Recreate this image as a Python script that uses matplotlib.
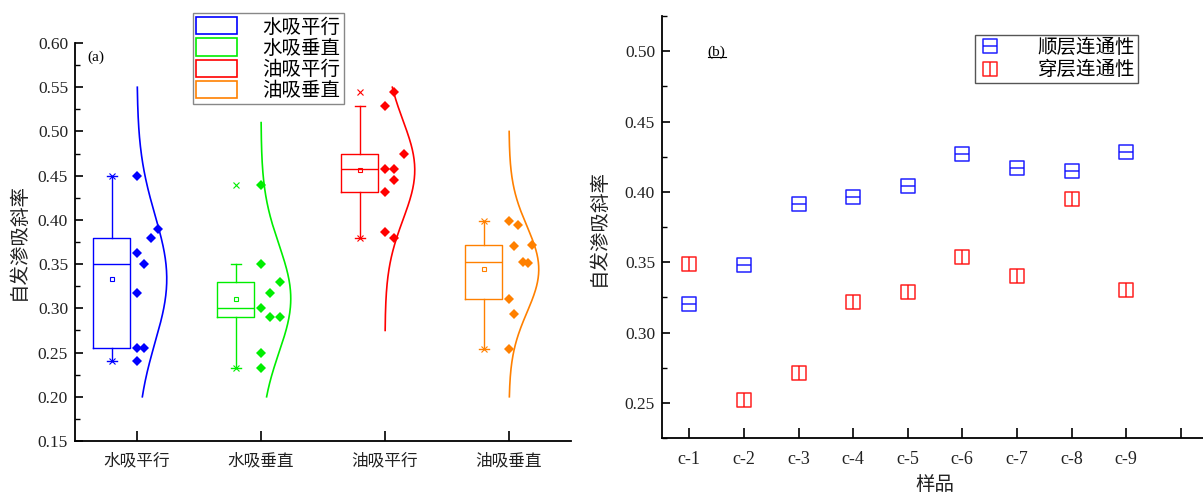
import numpy as np
import matplotlib.pyplot as plt
from matplotlib.path import Path
from matplotlib.patches import Patch
from matplotlib.lines import Line2D
from matplotlib.ticker import MultipleLocator, FormatStrFormatter

plt.rcParams['font.family'] = ['Liberation Serif', 'Noto Sans CJK SC']
plt.rcParams['axes.unicode_minus'] = False

# (a) imbibition slope per group
groups = ['水吸平行', '水吸垂直', '油吸平行', '油吸垂直']
water_par = [0.24, 0.255, 0.255, 0.317, 0.363, 0.35, 0.38, 0.39, 0.45]
water_perp = [0.232, 0.25, 0.29, 0.29, 0.30, 0.317, 0.33, 0.35, 0.44]
oil_par = [0.386, 0.380, 0.431, 0.445, 0.458, 0.458, 0.475, 0.529, 0.545]
oil_perp = [0.254, 0.294, 0.311, 0.399, 0.370, 0.394, 0.352, 0.351, 0.372]
curve_lo = [0.20, 0.20, 0.275, 0.20]
curve_hi = [0.55, 0.51, 0.55, 0.50]
colors_a = ['#0000ff', '#00ee00', '#ff0000', '#ff8000']

# (b) imbibition slope per sample
samples = ['c-1', 'c-2', 'c-3', 'c-4', 'c-5', 'c-6', 'c-7', 'c-8', 'c-9']
bedding = [0.320, 0.348, 0.391, 0.396, 0.404, 0.427, 0.417, 0.415, 0.428]
cross = [0.349, 0.252, 0.271, 0.322, 0.329, 0.354, 0.340, 0.395, 0.330]

TXT = '#222222'


def bin_columns(vals, width=0.05):
    # points falling in the same bin are spread sideways in order
    bins = np.floor(np.asarray(vals) / width + 1e-6).astype(int)
    cols = np.zeros(len(vals), int)
    seen = {}
    for i, b in enumerate(bins):
        cols[i] = seen.get(b, 0)
        seen[b] = cols[i] + 1
    return cols, max(seen.values())


def boxed_marker(vertical):
    if vertical:
        mid = [(0, -1), (0, 1)]
    else:
        mid = [(-1, 0), (1, 0)]
    verts = [(-1, -1), (1, -1), (1, 1), (-1, 1), (-1, -1)] + mid
    codes = [Path.MOVETO, Path.LINETO, Path.LINETO, Path.LINETO, Path.CLOSEPOLY,
             Path.MOVETO, Path.LINETO]
    return Path(verts, codes)


fig = plt.figure(figsize=(12.03, 4.94), dpi=100)
ax1 = fig.add_axes([75 / 1203, 53 / 494, 496 / 1203, 398 / 494])
ax2 = fig.add_axes([662 / 1203, 56 / 494, 546 / 1203, 422 / 494])

# ---- panel (a)
data_a = [water_par, water_perp, oil_par, oil_perp]
pos = np.arange(1, 5)
for i, (vals, c) in enumerate(zip(data_a, colors_a)):
    p = pos[i]
    vals = np.asarray(vals)
    ax1.boxplot([vals], positions=[p - 0.205], widths=0.30, whis=1.5,
                showfliers=False, showmeans=True, manage_ticks=False,
                capwidths=0.08,
                boxprops=dict(color=c, lw=1.0),
                whiskerprops=dict(color=c, lw=1.0),
                capprops=dict(color=c, lw=1.0),
                medianprops=dict(color=c, lw=1.0),
                meanprops=dict(marker='s', ms=3.5, mfc='none', mec=c, mew=0.8))
    ax1.plot([p - 0.205] * 2, [vals.min(), vals.max()], ls='none', marker='x',
             ms=5, mew=0.8, color=c)
    cols, nmax = bin_columns(vals)
    ax1.plot(p + cols * 0.226 / nmax, vals, ls='none', marker='D', ms=5.3,
             mew=0, color=c, zorder=4)
    mu, sd = vals.mean(), vals.std(ddof=1)
    yy = np.linspace(curve_lo[i], curve_hi[i], 200)
    ax1.plot(p + 0.24 * np.exp(-0.5 * ((yy - mu) / sd) ** 2), yy, color=c, lw=1.2)

ax1.set_xlim(0.5, 4.5)
ax1.set_ylim(0.15, 0.60)
ax1.set_xticks(pos, groups, fontsize=12, color=TXT)
ax1.yaxis.set_major_locator(MultipleLocator(0.05))
ax1.yaxis.set_minor_locator(MultipleLocator(0.025))
ax1.yaxis.set_major_formatter(FormatStrFormatter('%.2f'))
ax1.set_ylabel('自发渗吸斜率', fontsize=14, color=TXT, labelpad=7)
ax1.text(0.025, 0.965, '(a)', transform=ax1.transAxes, fontsize=11,
         va='center', ha='left')

leg_handles = [Patch(facecolor='none', edgecolor=c, lw=1.2) for c in colors_a]
ax1.legend(leg_handles, groups, loc='upper left', bbox_to_anchor=(0.237, 1.075),
           fontsize=14, frameon=True, fancybox=False, edgecolor='#888888',
           framealpha=1, handlelength=2.1, handleheight=1.0, labelspacing=0.1,
           handletextpad=1.3, borderpad=0.2, borderaxespad=0)

# ---- panel (b)
x = np.arange(1, len(samples) + 1)
ax2.plot(x, bedding, ls='none', marker=boxed_marker(False), ms=10,
         mfc='none', mec='#2020ff', mew=1.1, label='顺层连通性')
ax2.plot(x, cross, ls='none', marker=boxed_marker(True), ms=10,
         mfc='none', mec='#ff2020', mew=1.1, label='穿层连通性')
ax2.set_xlim(0.5, 10.5)
ax2.set_ylim(0.225, 0.525)
ax2.set_xticks(np.arange(1, 11), samples + [''], fontsize=13, color=TXT)
ax2.yaxis.set_major_locator(MultipleLocator(0.05))
ax2.yaxis.set_minor_locator(MultipleLocator(0.025))
ax2.yaxis.set_major_formatter(FormatStrFormatter('%.2f'))
ax2.set_ylabel('自发渗吸斜率', fontsize=14, color=TXT, labelpad=12)
ax2.set_xlabel('样品', fontsize=14, color=TXT, labelpad=6)
tb = ax2.text(0.1, 0.915, '(b)', transform=ax2.transAxes, fontsize=11,
              va='center', ha='center')
ax2.legend(loc='upper left', bbox_to_anchor=(0.573, 0.955), fontsize=14,
           frameon=True, fancybox=False, edgecolor='#555555', framealpha=1,
           handlelength=1.2, handletextpad=1.8, labelspacing=0.2,
           borderpad=0.2, borderaxespad=0)

for ax in (ax1, ax2):
    for side in ('top', 'right'):
        ax.spines[side].set_visible(False)
    for side in ('left', 'bottom'):
        ax.spines[side].set_linewidth(1.3)
    ax.tick_params(axis='both', which='major', direction='in', width=1.2,
                   labelcolor=TXT)
    ax.tick_params(axis='y', which='major', length=6, labelsize=12.5, pad=5)
    ax.tick_params(axis='y', which='minor', direction='in', length=3.5, width=1.0)
    ax.tick_params(axis='x', which='major', length=7, pad=9)

# underline under "(b)"
fig.canvas.draw()
bb = tb.get_window_extent().transformed(fig.transFigure.inverted())
fig.add_artist(Line2D([bb.x0, bb.x1], [bb.y0 + 0.004, bb.y0 + 0.004],
                      transform=fig.transFigure, color='black', lw=0.8))

fig.savefig('out.png', dpi=100)
